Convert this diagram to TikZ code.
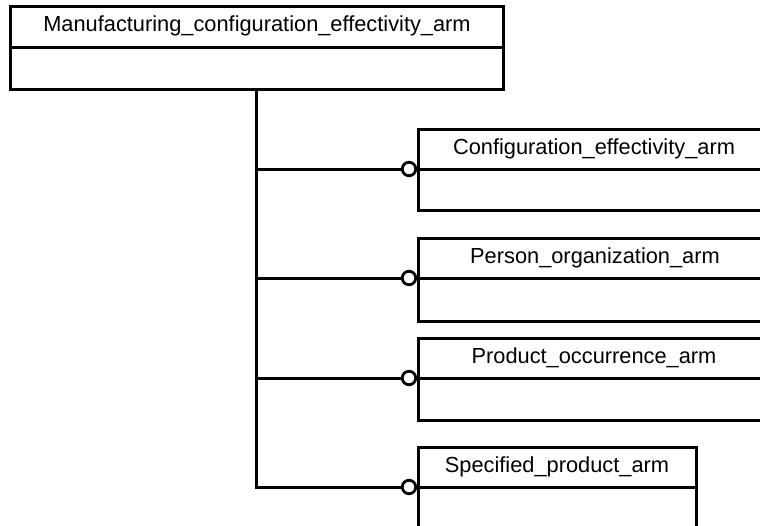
\documentclass[tikz,border=0pt]{standalone}
\usepackage{fontspec}
\setmainfont{Liberation Sans}
\begin{document}
\begin{tikzpicture}[x=1pt,y=-1pt,
  box/.style={draw,line width=3pt,rectangle,inner sep=0pt,anchor=north west},
  lbl/.style={font=\fontsize{21.8}{24}\selectfont,inner sep=0pt},
  conn/.style={line width=3pt},
  ring/.style={circle,draw,line width=2.8pt,fill=white,minimum size=13.5pt,inner sep=0pt}]
\useasboundingbox (0,0) rectangle (760,525);
\clip (0,0) rectangle (760,525);
% top entity
\node[box,minimum width=493pt,minimum height=83pt] (M) at (9,5) {};
\draw[conn] (M.west |- 0,47) -- (M.east |- 0,47);
\node[lbl] (Mt) at (257,26) {Manufacturing\_configuration\_effectivity\_arm};
% right entities
\node[box,minimum width=360pt,minimum height=81pt] (C) at (417,128) {};
\draw[conn] (C.west |- 0,169) -- (C.east |- 0,169);
\node[lbl] (Ct) at (594,148.5) {Configuration\_effectivity\_arm};
\node[box,minimum width=360pt,minimum height=83pt] (P) at (417,237) {};
\draw[conn] (P.west |- 0,278) -- (P.east |- 0,278);
\node[lbl] (Pt) at (595,257.5) {Person\_organization\_arm};
\node[box,minimum width=360pt,minimum height=82pt] (O) at (417,337) {};
\draw[conn] (O.west |- 0,378) -- (O.east |- 0,378);
\node[lbl] (Ot) at (594,357.5) {Product\_occurrence\_arm};
\node[box,minimum width=278pt,minimum height=120pt] (S) at (417,446) {};
\draw[conn] (S.west |- 0,487) -- (S.east |- 0,487);
\node[lbl] (St) at (557,466.5) {Specified\_product\_arm};
% trunk and connectors
\coordinate (T0) at (256,88);
\coordinate (T1) at (256,169);
\coordinate (T2) at (256,278);
\coordinate (T3) at (256,378);
\coordinate (T4) at (256,487);
\draw[conn] (T0) -- (T4);
\node[ring] (r1) at (409,169) {};
\node[ring] (r2) at (409,278) {};
\node[ring] (r3) at (409,378) {};
\node[ring] (r4) at (409,487) {};
\draw[conn] (T1) -- (r1.west);
\draw[conn] (T2) -- (r2.west);
\draw[conn] (T3) -- (r3.west);
\draw[conn,line cap=rect] (T4) -- (r4.west);
\end{tikzpicture}
\end{document}
